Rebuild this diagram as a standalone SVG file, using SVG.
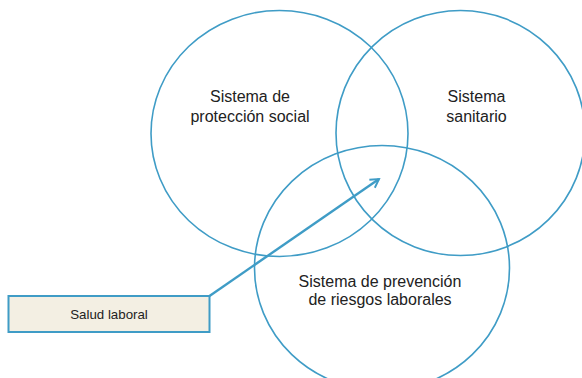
<svg xmlns="http://www.w3.org/2000/svg" width="582" height="378" viewBox="0 0 582 378">
<defs>
<style>
.c{fill:none;stroke:#3f9cc6;stroke-width:1.6}
.t{font-family:"Liberation Sans",Arial,sans-serif;font-size:16px;fill:#222;text-anchor:middle}
.s{font-family:"Liberation Sans",Arial,sans-serif;font-size:13.3px;fill:#222;text-anchor:middle}
</style>
<marker id="ah" viewBox="0 0 10 10" refX="8" refY="5" markerWidth="5" markerHeight="5" orient="auto" markerUnits="strokeWidth">
<path d="M1,1 L8,5 L1,9" fill="none" stroke="#3f9cc6" stroke-width="1.6"/>
</marker>
</defs>
<rect width="582" height="378" fill="#fff"/>
<g id="proteccion">
<ellipse class="c" cx="279.5" cy="133.5" rx="128.5" ry="123"/>
<text class="t" x="250" y="102">Sistema de</text>
<text class="t" x="250" y="121.5">protección social</text>
</g>
<g id="sanitario">
<ellipse class="c" cx="460.5" cy="133" rx="124.5" ry="122.5"/>
<text class="t" x="476.5" y="102">Sistema</text>
<text class="t" x="476.5" y="121.5">sanitario</text>
</g>
<g id="prevencion">
<ellipse class="c" cx="382" cy="268" rx="127.5" ry="122.5"/>
<text class="t" x="380" y="286.5">Sistema de prevención</text>
<text class="t" x="380" y="305">de riesgos laborales</text>
</g>
<g id="salud">
<rect x="8.5" y="296" width="201" height="36" fill="#f3efe3" stroke="#3f9cc6" stroke-width="2"/>
<text class="s" x="109" y="318.5">Salud laboral</text>
</g>
<g id="connectors">
<line x1="209.5" y1="296" x2="379" y2="179" stroke="#3f9cc6" stroke-width="2.4" marker-end="url(#ah)"/>
</g>
</svg>
